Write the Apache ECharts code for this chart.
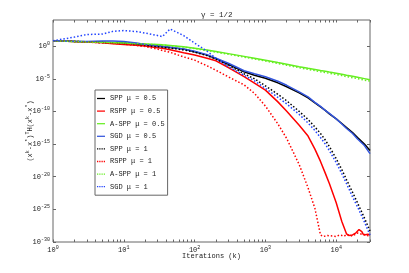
<!DOCTYPE html>
<html><head><meta charset="utf-8">
<script src="https://cdn.jsdelivr.net/npm/echarts@6/dist/echarts.min.js"></script>
<style>html,body{margin:0;padding:0;background:#fff}#c{width:409px;height:273px}</style>
</head><body><div id="c"></div>
<script>
// iteration counts k (x axis, log scale)
const iterations = [1,2,3,5,7,10,15,20,30,35,45,70,100,150,200,300,500,700,1000,1500,2000,3000,4000,5000,6000,7000,8000,10000,12000,14000,17000,20000,25000,30000];
// log10 of (x^k - x*)^T H (x^k - x*)
const sppHalf  = [0.82,0.72,0.66,0.58,0.52,0.46,0.34,0.23,0.03,-0.05,-0.20,-0.46,-0.85,-1.38,-1.92,-2.77,-3.92,-4.46,-4.92,-5.62,-6.23,-7.15,-7.92,-8.69,-9.31,-9.85,-10.38,-11.15,-11.85,-12.46,-13.23,-14.00,-15.00,-16.00];
const rsppHalf = [0.82,0.69,0.62,0.52,0.38,0.26,0.12,0.00,-0.25,-0.34,-0.54,-1.00,-1.35,-1.85,-2.25,-3.28,-4.68,-5.68,-6.74,-8.54,-9.97,-12.12,-13.77,-15.77,-17.66,-19.45,-21.03,-24.00,-26.86,-28.77,-28.92,-28.31,-28.77,-28.92];
const asppHalf = [0.82,0.72,0.66,0.58,0.54,0.49,0.40,0.34,0.26,0.20,0.11,-0.09,-0.31,-0.60,-0.83,-1.15,-1.57,-1.85,-2.15,-2.52,-2.77,-3.15,-3.40,-3.58,-3.74,-3.86,-3.97,-4.15,-4.31,-4.46,-4.62,-4.77,-4.98,-5.15];
const sgdHalf  = [0.82,0.74,0.72,0.77,0.80,0.72,0.46,0.26,0.03,-0.05,-0.18,-0.43,-0.77,-1.31,-1.85,-2.62,-3.77,-4.23,-4.69,-5.38,-6.00,-7.00,-7.77,-8.62,-9.23,-9.85,-10.31,-11.15,-11.92,-12.62,-13.38,-14.23,-15.23,-16.46];
const sppOne   = [0.82,0.72,0.65,0.54,0.46,0.37,0.22,0.08,-0.09,-0.17,-0.31,-0.58,-0.92,-1.46,-2.00,-2.92,-4.23,-5.00,-6.08,-7.38,-8.38,-10.00,-11.23,-12.38,-13.38,-14.38,-15.38,-17.23,-18.92,-20.46,-22.38,-24.00,-26.31,-28.31];
const rsppOne  = [0.82,0.72,0.62,0.49,0.42,0.31,0.09,-0.06,-0.46,-0.66,-0.95,-1.65,-2.15,-3.02,-3.69,-4.71,-5.94,-7.23,-9.18,-11.91,-14.15,-18.15,-21.69,-24.85,-28.92,-29.08,-28.92,-29.15,-29.00,-28.85,-29.08,-28.62,-28.92,-29.08];
const asppOne  = [0.82,0.71,0.64,0.56,0.51,0.46,0.37,0.30,0.21,0.15,0.05,-0.15,-0.38,-0.68,-0.92,-1.25,-1.68,-1.97,-2.28,-2.66,-2.92,-3.31,-3.57,-3.76,-3.92,-4.05,-4.16,-4.35,-4.51,-4.67,-4.83,-4.98,-5.20,-5.37];
const sgdOne   = [0.82,1.38,1.77,1.85,2.26,2.38,2.23,2.00,1.62,1.46,2.62,1.62,0.46,-0.77,-1.85,-3.15,-4.46,-5.31,-6.46,-7.85,-8.85,-10.46,-11.77,-12.92,-14.00,-15.00,-16.00,-17.85,-19.54,-21.08,-23.08,-24.62,-26.92,-28.92];
// extra samples on the noise floor of the RSPP curves
const rsppHalfFloorIters = [15000,16000,18000,19000,21000,22000,23000,24000,26000,28000];
const rsppHalfFloorVals  = [-29.0,-28.85,-28.9,-28.6,-28.1,-28.0,-28.4,-28.8,-28.9,-28.8];
const rsppOneFloorIters  = [6500,7500,9000,11000,13000];
const rsppOneFloorVals   = [-29.15,-29.0,-29.1,-28.95,-29.1];
// tick labels (decade exponents)
const xTickExps = [0,1,2,3,4];
const yTickExps = [-30,-25,-20,-15,-10,-5,0];
const xMax = 30000, yMinExp = -30, yMaxExp = 4;
const legendNames = ['SPP μ = 0.5','RSPP μ = 0.5','A-SPP μ = 0.5','SGD μ = 0.5','SPP μ = 1','RSPP μ = 1','A-SPP μ = 1','SGD μ = 1'];

function pts(xs, ys){ return xs.map((k,i)=>[Math.log10(k), ys[i]]); }
function merged(xs, ys, fx, fy){ return pts(xs,ys).concat(pts(fx,fy)).sort((a,b)=>a[0]-b[0]); }

const xAllTicks = [];
for (let d=0; d<=4; d++) for (let m=1; m<=9; m++){ const v=d+Math.log10(m); if (v<=Math.log10(xMax)+1e-9) xAllTicks.push(v); }

const FONT = 'Liberation Mono';
const rich = {
  b:{fontFamily:FONT, fontSize:7, color:'#222'},
  s:{fontFamily:FONT, fontSize:5, color:'#222', padding:[0,0,5,0]}
};
const expFmt = v => '{b|10}{s|' + Math.round(v) + '}';

const solid = (c)=>({color:c, width:1.5, type:'solid'});
const dotted = (c)=>({color:c, width:1.5, type:[1.5,2]});
const ICON_SOLID = 'path://M0,0h9v1.4h-9z';
const ICON_DOT = 'path://M0,0h1.4v1.4h-1.4z M2.5,0h1.4v1.4h-1.4z M5,0h1.4v1.4h-1.4z M7.5,0h1.4v1.4h-1.4z';
function line(name, data, ls){
  return {name, type:'line', data, showSymbol:false, symbol:'none', lineStyle:ls, itemStyle:{color:ls.color}, animation:false, clip:true};
}

const chart = echarts.init(document.getElementById('c'), null, {renderer:'canvas'});
const xLog = Math.log10(xMax);
const baseX = {type:'value', min:0, max:xLog, interval:1, splitLine:{show:false}, axisLine:{show:false, onZero:false}};
const baseY = {type:'value', min:yMinExp, max:yMaxExp, interval:5, splitLine:{show:false}, axisLine:{show:false, onZero:false}};
chart.setOption({
  animation:false,
  backgroundColor:'#fff',
  title:{text:'γ = 1/2', left:196, top:6, textStyle:{fontFamily:FONT, fontSize:7.5, fontWeight:'normal', color:'#222'}},
  grid:{left:53, right:39, top:20, bottom:31, show:true, borderColor:'#666', borderWidth:1},
  legend:{
    left:95, top:90, orient:'vertical', itemWidth:8, itemHeight:7, itemGap:5.6,
    padding:[5,3,5,2], backgroundColor:'#fff', borderColor:'#666', borderWidth:1, borderRadius:0,
    textStyle:{fontFamily:FONT, fontSize:7, color:'#222'},
    data: legendNames.map((n,i)=>({name:n, icon: i<4 ? ICON_SOLID : ICON_DOT}))
  },
  xAxis:[
    Object.assign({}, baseX, {position:'bottom',
      axisTick:{show:true, inside:true, length:2.5, customValues:xAllTicks, lineStyle:{color:'#666'}},
      axisLabel:{show:true, customValues:xTickExps, formatter:expFmt, rich, margin:3},
      name:'Iterations (k)', nameLocation:'middle', nameGap:11, nameMoveOverlap:false,
      nameTextStyle:{fontFamily:FONT, fontSize:7, color:'#222'}}),
    Object.assign({}, baseX, {position:'top',
      axisTick:{show:true, inside:true, length:2.5, customValues:xAllTicks, lineStyle:{color:'#666'}},
      axisLabel:{show:false}})
  ],
  yAxis:[
    Object.assign({}, baseY, {position:'left',
      axisTick:{show:true, inside:true, length:3, customValues:yTickExps, lineStyle:{color:'#666'}},
      axisLabel:{show:true, customValues:yTickExps, formatter:expFmt, rich, margin:3},
      name:'(x{s|k}-x{s|*}){s|T}H(x{s|k}-x{s|*})', nameLocation:'middle', nameGap:18, nameRotate:90, nameMoveOverlap:false,
      nameTextStyle:{fontFamily:FONT, fontSize:7, color:'#222', rich}}),
    Object.assign({}, baseY, {position:'right',
      axisTick:{show:true, inside:true, length:3, customValues:yTickExps, lineStyle:{color:'#666'}},
      axisLabel:{show:false}})
  ],
  series:[
    line(legendNames[0], pts(iterations, sppHalf), solid('#000000')),
    line(legendNames[1], merged(iterations, rsppHalf, rsppHalfFloorIters, rsppHalfFloorVals), solid('#ff0000')),
    line(legendNames[2], pts(iterations, asppHalf), solid('#66ee22')),
    line(legendNames[3], pts(iterations, sgdHalf), solid('#3355dd')),
    line(legendNames[4], pts(iterations, sppOne), dotted('#000000')),
    line(legendNames[5], merged(iterations, rsppOne, rsppOneFloorIters, rsppOneFloorVals), dotted('#ff0000')),
    line(legendNames[6], pts(iterations, asppOne), dotted('#66ee22')),
    line(legendNames[7], pts(iterations, sgdOne), dotted('#2244ff'))
  ]
});
</script></body></html>
